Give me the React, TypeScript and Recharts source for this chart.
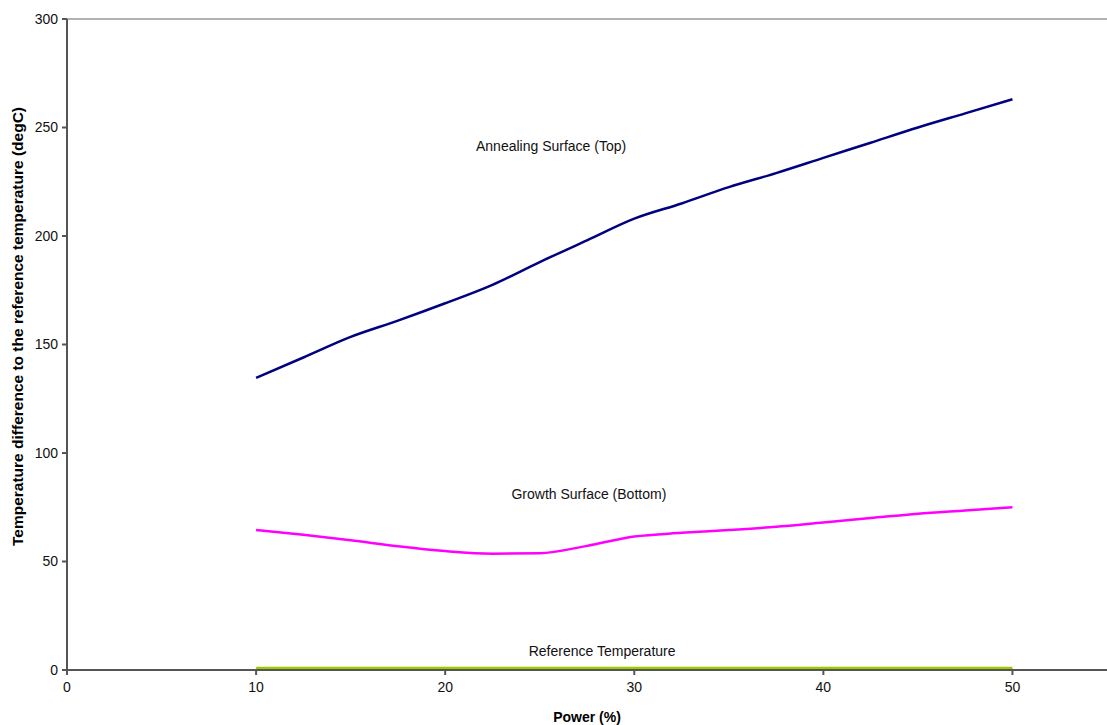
import React from 'react';
import { LineChart, Line, XAxis, YAxis, ReferenceLine, ReferenceDot, Label } from 'recharts';

const powers = [10, 12.5, 15, 17.5, 20, 22.5, 25, 27.5, 30, 32.5, 35, 37.5, 40, 42.5, 45, 47.5, 50];
const annealing = [134.6, 144, 153.5, 161, 169, 177.5, 188, 198, 208, 215, 222.5, 229, 236, 243, 250, 256.5, 263];
const growth = [64.5, 62.3, 59.8, 57, 54.8, 53.6, 53.8, 57.2, 61.5, 63.2, 64.5, 66, 68, 70, 72, 73.5, 75];
const reference = [0.8, 0.8, 0.8, 0.8, 0.8, 0.8, 0.8, 0.8, 0.8, 0.8, 0.8, 0.8, 0.8, 0.8, 0.8, 0.8, 0.8];

const xTicks = [0, 10, 20, 30, 40, 50];
const yTicks = [0, 50, 100, 150, 200, 250, 300];

const seriesLabels = [
  { text: 'Annealing Surface (Top)', x: 25.6, y: 241.5 },
  { text: 'Growth Surface (Bottom)', x: 27.6, y: 81 },
  { text: 'Reference Temperature', x: 28.3, y: 8.8 },
];

const data = powers.map((p, i) => ({
  power: p,
  annealing: annealing[i],
  growth: growth[i],
  reference: reference[i],
}));

const font = 'Liberation Sans, Arial, sans-serif';

export default function App() {
  return (
    <div style={{ position: 'absolute', left: 0, top: 0, background: '#fff' }}>
      <LineChart width={1107} height={725} data={data} margin={{ top: 19, right: 0, bottom: 0, left: 10 }}>
        <XAxis
          dataKey="power"
          type="number"
          domain={[0, 55]}
          ticks={xTicks}
          height={55}
          tickSize={5}
          tickMargin={7}
          stroke="#555"
          strokeWidth={2}
          tick={{ fill: '#111', fontSize: 14, fontFamily: font }}
          allowDataOverflow
        >
          <Label value="Power (%)" position="insideBottom" offset={3} style={{ fontWeight: 'bold', fontSize: 14, fill: '#000', fontFamily: font }} />
        </XAxis>
        <YAxis
          type="number"
          domain={[0, 300]}
          ticks={yTicks}
          width={57}
          tickSize={5}
          tickMargin={4}
          stroke="#555"
          strokeWidth={2}
          tick={{ fill: '#111', fontSize: 14, fontFamily: font }}
        >
          <Label value="Temperature difference to the reference temperature (degC)" angle={-90} position="insideLeft" offset={-2} dx={9} dy={-18} style={{ textAnchor: 'middle', fontWeight: 'bold', fontSize: 15.5, fill: '#000', fontFamily: font }} />
        </YAxis>
        <ReferenceLine y={300} stroke="#999" strokeWidth={1.5} />
        <Line dataKey="reference" stroke="#99CC00" strokeWidth={3} dot={false} isAnimationActive={false} />
        <Line dataKey="growth" stroke="#FF00FF" strokeWidth={2.5} dot={false} isAnimationActive={false} type="monotone" />
        <Line dataKey="annealing" stroke="#000080" strokeWidth={2.5} dot={false} isAnimationActive={false} type="monotone" />
        {seriesLabels.map((l) => (
          <ReferenceDot key={l.text} x={l.x} y={l.y} r={0} stroke="none" fill="none">
            <Label value={l.text} position="center" style={{ fontSize: 14, fill: '#111', fontFamily: font }} />
          </ReferenceDot>
        ))}
      </LineChart>
    </div>
  );
}
